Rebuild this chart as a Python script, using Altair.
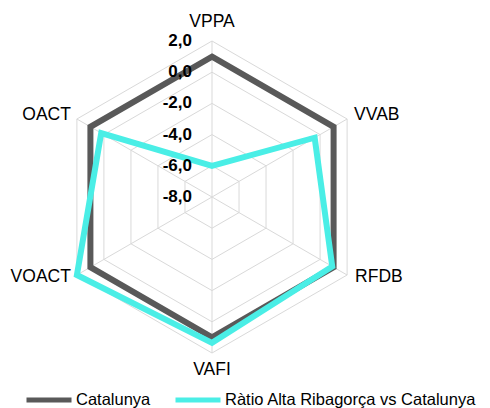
import altair as alt
import pandas as pd

# ---- data ----
categories = ["VPPA", "VVAB", "RFDB", "VAFI", "VOACT", "OACT"]
series_names = ["Catalunya", "Ràtio Alta Ribagorça vs Catalunya"]
catalunya = [1.0, 1.0, 1.0, 1.0, 1.0, 1.0]
ratio = [-6.0, -0.4, 0.9, 1.35, 2.0, 0.2]
tick_values = [2, 0, -2, -4, -6, -8]
tick_labels = ["2,0", "0,0", "-2,0", "-4,0", "-6,0", "-8,0"]

R_MIN, R_MAX = -8.0, 2.0
N = len(categories)

# ---- tables built from the lists ----
series_rows = []
for name, vals in zip(series_names, [catalunya, ratio]):
    for i, (c, v) in enumerate(zip(categories, vals)):
        series_rows.append({"series": name, "cat": c, "idx": i, "value": v})
series_df = pd.DataFrame(series_rows)

grid_rows = []
for t in tick_values:
    if t == R_MIN:
        continue
    for i, c in enumerate(categories):
        grid_rows.append({"ring": t, "idx": i, "value": t})
grid_df = pd.DataFrame(grid_rows)

spoke_df = pd.DataFrame({"cat": categories, "idx": list(range(N)), "value": [R_MAX] * N})
tick_df = pd.DataFrame({"value": tick_values, "label": tick_labels, "idx": [0] * len(tick_values)})

def polar(chart):
    return chart.transform_calculate(
        r=f"(datum.value - ({R_MIN})) / ({R_MAX - R_MIN})"
    ).transform_calculate(
        px=f"datum.r * sin(datum.idx * 2 * PI / {N})",
        py=f"datum.r * cos(datum.idx * 2 * PI / {N})",
    )

xs = alt.Scale(domain=[-1, 1], nice=False, zero=False)
ys = alt.Scale(domain=[-1, 1], nice=False, zero=False)
X = alt.X("px:Q", scale=xs, axis=None)
Y = alt.Y("py:Q", scale=ys, axis=None)

FONT = "Liberation Sans"
GRID = "#d9d9d9"
DARK = "#595959"
CYAN = "#4aeee6"

rings = polar(alt.Chart(grid_df)).mark_line(
    interpolate="linear-closed", stroke=GRID, strokeWidth=1
).encode(x=X, y=Y, detail="ring:N", order="idx:Q")

spokes = polar(alt.Chart(spoke_df)).transform_calculate(
    zx="0", zy="0"
).mark_rule(stroke=GRID, strokeWidth=1).encode(
    x=alt.X("zx:Q", scale=xs, axis=None),
    y=alt.Y("zy:Q", scale=ys, axis=None),
    x2="px:Q", y2="py:Q",
)

lines = polar(alt.Chart(series_df)).mark_line(
    interpolate="linear-closed", strokeWidth=6, strokeJoin="miter"
).encode(
    x=X, y=Y, order="idx:Q",
    color=alt.Color(
        "series:N",
        scale=alt.Scale(domain=series_names, range=[DARK, CYAN]),
        sort=series_names,
        legend=alt.Legend(
            title=None, orient="none", direction="horizontal",
            legendX=-32, legendY=334,
            symbolType="stroke", symbolStrokeWidth=5, symbolSize=2025,
            labelFont=FONT, labelFontSize=16.5, labelColor="#000000",
            labelOffset=2, columnPadding=14, labelLimit=400,
        ),
    ),
)

tick_text = polar(alt.Chart(tick_df)).mark_text(
    align="right", baseline="middle", dx=-20, font=FONT, fontSize=17,
    fontWeight="bold", color="#000000"
).encode(x=X, y=Y, text="label:N")

label_style = {
    "VPPA": dict(align="center", dx=0, dy=-19),
    "VVAB": dict(align="left", dx=7, dy=-4),
    "RFDB": dict(align="left", dx=8, dy=2),
    "VAFI": dict(align="center", dx=0, dy=17),
    "VOACT": dict(align="right", dx=-6, dy=2),
    "OACT": dict(align="right", dx=-6, dy=-4),
}
cat_layers = []
for c in categories:
    st = label_style[c]
    cat_layers.append(
        polar(alt.Chart(spoke_df)).transform_filter(alt.datum.cat == c).mark_text(
            baseline="middle", font=FONT, fontSize=17.5, color="#000000", **st
        ).encode(x=X, y=Y, text="cat:N")
    )

chart = alt.layer(rings, spokes, lines, tick_text, *cat_layers).properties(
    width=312, height=312,
    background="white",
    autosize=alt.AutoSizeParams(type="none"),
    padding={"left": 48, "top": 33, "right": 114, "bottom": 55},
).configure_view(strokeWidth=0, stroke="transparent")

chart.save("out.html", embed_options={"renderer": "svg", "actions": False})
